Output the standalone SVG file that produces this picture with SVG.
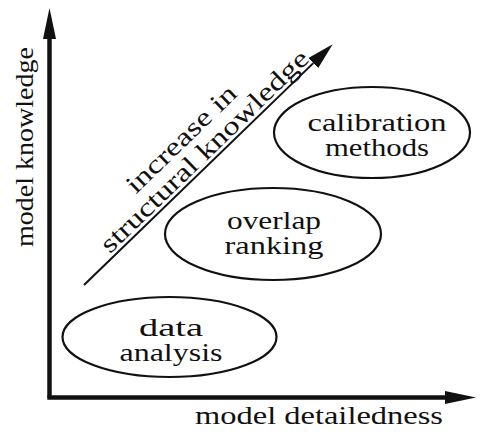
<svg xmlns="http://www.w3.org/2000/svg" width="482" height="432" viewBox="0 0 482 432">
<style>
  text { font-family: 'Liberation Serif', 'Times New Roman', serif; fill: #111; }
  .node { font-size: 25px; text-anchor: middle; }
  .axl { font-size: 26px; text-anchor: middle; }
  .diag { font-size: 26px; text-anchor: middle; }
  .ell { fill: none; stroke: #111; stroke-width: 2.2; }
  .axis { fill: none; stroke: #111; stroke-width: 4.5; stroke-linecap: butt; }
  .trend { fill: none; stroke: #111; stroke-width: 2; }
</style>
<defs>
  <marker id="axhead" markerUnits="userSpaceOnUse" markerWidth="32" markerHeight="18" refX="0" refY="8" orient="auto" viewBox="0 0 32 18">
    <path d="M0,1.5 L31,8 L0,14.5 Z" fill="#111"/>
  </marker>
  <marker id="dhead" markerUnits="userSpaceOnUse" markerWidth="28" markerHeight="16" refX="0" refY="8" orient="auto" viewBox="0 0 28 16">
    <path d="M0,1 L27,8 L0,15 Z" fill="#111"/>
  </marker>
</defs>
<g id="connectors">
  <path class="axis" d="M49.5,397.5 L49.5,39" marker-end="url(#axhead)"/>
  <path class="axis" d="M47.3,397.5 L445,397.5" marker-end="url(#axhead)"/>
  <path class="trend" d="M84,285 L313.3,63.1" marker-end="url(#dhead)"/>
</g>
<g id="axis-labels">
  <text class="axl" font-family="'Liberation Serif', serif" transform="translate(33,147) rotate(-90)" textLength="200" lengthAdjust="spacingAndGlyphs">model knowledge</text>
  <text class="axl" font-family="'Liberation Serif', serif" x="319" y="424" textLength="248" lengthAdjust="spacingAndGlyphs">model detailedness</text>
</g>
<g id="trend-label" transform="translate(213,160.2) rotate(-44.06)">
  <text class="diag" font-family="'Liberation Serif', serif" x="0" y="-4" textLength="279" lengthAdjust="spacingAndGlyphs">structural knowledge</text>
  <text class="diag" font-family="'Liberation Serif', serif" x="-8" y="-29" textLength="143" lengthAdjust="spacingAndGlyphs">increase in</text>
</g>
<g id="node-data">
  <ellipse class="ell" cx="169.5" cy="337" rx="107" ry="40"/>
  <text class="node" font-family="'Liberation Serif', serif" x="171" y="336" textLength="64" lengthAdjust="spacingAndGlyphs">data</text>
  <text class="node" font-family="'Liberation Serif', serif" x="171" y="361" textLength="103" lengthAdjust="spacingAndGlyphs">analysis</text>
</g>
<g id="node-overlap">
  <ellipse class="ell" cx="273" cy="234" rx="108" ry="46"/>
  <text class="node" font-family="'Liberation Serif', serif" x="274" y="229" textLength="94" lengthAdjust="spacingAndGlyphs">overlap</text>
  <text class="node" font-family="'Liberation Serif', serif" x="274" y="254" textLength="99" lengthAdjust="spacingAndGlyphs">ranking</text>
</g>
<g id="node-calibration">
  <ellipse class="ell" cx="372" cy="132.5" rx="98" ry="45.5"/>
  <text class="node" font-family="'Liberation Serif', serif" x="377" y="131" textLength="139" lengthAdjust="spacingAndGlyphs">calibration</text>
  <text class="node" font-family="'Liberation Serif', serif" x="377" y="156" textLength="104" lengthAdjust="spacingAndGlyphs">methods</text>
</g>
</svg>
